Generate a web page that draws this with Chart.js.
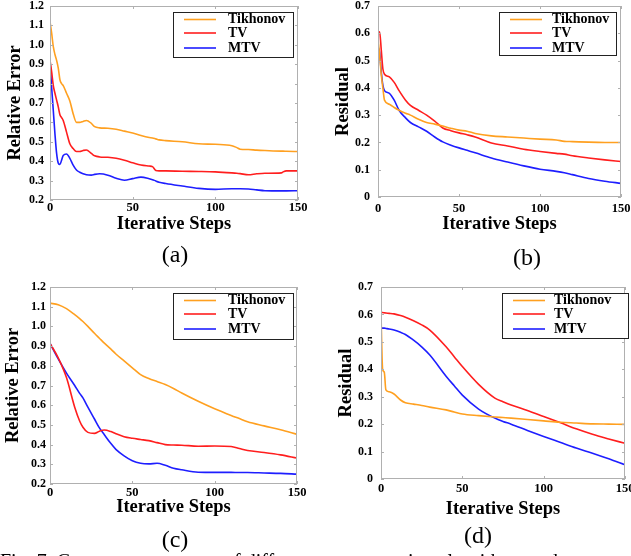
<!DOCTYPE html>
<html>
<head>
<meta charset="utf-8">
<script src="https://cdn.jsdelivr.net/npm/chart.js@4/dist/chart.umd.min.js"></script>
<style>
  body { margin: 0; background: #fff; width: 631px; height: 556px; overflow: hidden; position: relative; font-family: "Liberation Serif", "Times New Roman", serif; }
  .panel { position: absolute; }
  .cap { position: absolute; width: 60px; text-align: center; font-size: 24px; line-height: 24px; color: #000; }
  .fig { position: absolute; left: 0; top: 551px; font-size: 20px; line-height: 20px; white-space: nowrap; color: #000; }
</style>
</head>
<body>
<div class="panel" style="left:0;top:0"><canvas id="chartA" width="315" height="280"></canvas></div>
<div class="panel" style="left:315px;top:0"><canvas id="chartB" width="316" height="280"></canvas></div>
<div class="panel" style="left:0;top:280px"><canvas id="chartC" width="315" height="276"></canvas></div>
<div class="panel" style="left:315px;top:280px"><canvas id="chartD" width="316" height="276"></canvas></div>
<div class="cap" style="left:145px;top:242px">(a)</div>
<div class="cap" style="left:497px;top:245px">(b)</div>
<div class="cap" style="left:145px;top:527px">(c)</div>
<div class="cap" style="left:448px;top:523px">(d)</div>
<div class="fig">Fig. 7. Convergence curves of different reconstruction algorithms and</div>
<script>
const seriesNames = ["Tikhonov", "TV", "MTV"];
const xTicks = [0, 50, 100, 150];
const xTickLabels = ["0", "50", "100", "150"];
const yTicksError = [0.2, 0.3, 0.4, 0.5, 0.6, 0.7, 0.8, 0.9, 1.0, 1.1, 1.2];
const yLabelsError = ["0.2", "0.3", "0.4", "0.5", "0.6", "0.7", "0.8", "0.9", "1.0", "1.1", "1.2"];
const yTicksResidual = [0, 0.1, 0.2, 0.3, 0.4, 0.5, 0.6, 0.7];
const yLabelsResidual = ["0", "0.1", "0.2", "0.3", "0.4", "0.5", "0.6", "0.7"];

// (a) relative error
const stepsA = [0, 1, 2, 3, 4, 5, 6, 7, 8, 10, 12, 14, 16, 18, 20, 22, 25, 27, 30, 35, 40, 45, 50, 55, 60, 62, 64, 66, 70, 80, 90, 100, 110, 113, 115, 120, 125, 130, 140, 141, 143, 150];
const tikhonovA = [1.12, 1.06, 0.99, 0.95, 0.92, 0.88, 0.82, 0.80, 0.79, 0.75, 0.71, 0.645, 0.60, 0.60, 0.605, 0.61, 0.595, 0.578, 0.572, 0.57, 0.565, 0.555, 0.545, 0.532, 0.522, 0.52, 0.515, 0.51, 0.506, 0.50, 0.49, 0.487, 0.48, 0.47, 0.462, 0.46, 0.457, 0.455, 0.452, 0.452, 0.451, 0.45];
const tvA = [0.92, 0.86, 0.79, 0.75, 0.715, 0.68, 0.64, 0.625, 0.61, 0.55, 0.49, 0.465, 0.45, 0.45, 0.455, 0.458, 0.44, 0.428, 0.422, 0.42, 0.415, 0.405, 0.392, 0.38, 0.375, 0.372, 0.352, 0.35, 0.35, 0.348, 0.347, 0.345, 0.34, 0.338, 0.336, 0.33, 0.335, 0.338, 0.34, 0.345, 0.35, 0.35];
const mtvA = [0.92, 0.78, 0.66, 0.54, 0.44, 0.39, 0.383, 0.405, 0.43, 0.437, 0.415, 0.38, 0.355, 0.343, 0.335, 0.33, 0.328, 0.332, 0.335, 0.328, 0.312, 0.302, 0.31, 0.318, 0.31, 0.305, 0.298, 0.292, 0.285, 0.272, 0.26, 0.255, 0.258, 0.258, 0.258, 0.257, 0.252, 0.248, 0.247, 0.247, 0.247, 0.248];

// (b) residual
const stepsB = [0, 1, 2, 3, 4, 7, 10, 13, 17, 20, 25, 30, 35, 40, 45, 50, 55, 60, 70, 80, 90, 100, 110, 115, 120, 130, 140, 150];
const tikhonovB = [0.58, 0.52, 0.45, 0.40, 0.355, 0.34, 0.328, 0.318, 0.307, 0.30, 0.285, 0.273, 0.267, 0.26, 0.252, 0.245, 0.241, 0.233, 0.224, 0.22, 0.216, 0.212, 0.209, 0.204, 0.203, 0.201, 0.20, 0.20];
const tvB = [0.60, 0.605, 0.54, 0.47, 0.45, 0.44, 0.42, 0.39, 0.355, 0.336, 0.318, 0.30, 0.278, 0.253, 0.243, 0.235, 0.228, 0.22, 0.198, 0.187, 0.175, 0.167, 0.16, 0.157, 0.151, 0.143, 0.136, 0.13];
const mtvB = [0.55, 0.53, 0.46, 0.41, 0.39, 0.38, 0.355, 0.318, 0.29, 0.273, 0.257, 0.241, 0.22, 0.202, 0.19, 0.18, 0.171, 0.162, 0.143, 0.128, 0.114, 0.102, 0.094, 0.089, 0.082, 0.068, 0.058, 0.05];

// (c) relative error
const stepsC = [0, 5, 10, 15, 18, 20, 23, 27, 30, 33, 37, 40, 45, 50, 55, 60, 65, 70, 75, 80, 90, 100, 110, 115, 120, 130, 140, 150];
const tikhonovC = [1.118, 1.11, 1.09, 1.06, 1.04, 1.025, 1.0, 0.965, 0.94, 0.915, 0.885, 0.86, 0.825, 0.79, 0.755, 0.735, 0.72, 0.705, 0.685, 0.662, 0.62, 0.582, 0.548, 0.532, 0.516, 0.495, 0.475, 0.452];
const tvC = [0.914, 0.84, 0.74, 0.59, 0.52, 0.488, 0.462, 0.457, 0.468, 0.474, 0.466, 0.455, 0.44, 0.432, 0.426, 0.42, 0.41, 0.40, 0.398, 0.397, 0.392, 0.393, 0.39, 0.38, 0.37, 0.36, 0.348, 0.332];
const mtvC = [0.914, 0.835, 0.763, 0.70, 0.66, 0.637, 0.59, 0.53, 0.485, 0.45, 0.405, 0.376, 0.343, 0.318, 0.305, 0.302, 0.305, 0.295, 0.28, 0.272, 0.26, 0.259, 0.259, 0.258, 0.258, 0.256, 0.254, 0.25];

// (d) residual
const stepsD = [0, 1, 2, 3, 5, 8, 12, 15, 20, 25, 30, 40, 45, 50, 60, 70, 75, 80, 90, 100, 110, 120, 130, 140, 150];
const tikhonovD = [0.60, 0.40, 0.39, 0.325, 0.318, 0.31, 0.288, 0.278, 0.273, 0.268, 0.262, 0.252, 0.244, 0.237, 0.231, 0.226, 0.224, 0.222, 0.217, 0.212, 0.207, 0.204, 0.201, 0.20, 0.199];
const tvD = [0.607, 0.607, 0.606, 0.605, 0.604, 0.602, 0.596, 0.59, 0.577, 0.562, 0.543, 0.482, 0.446, 0.41, 0.345, 0.295, 0.282, 0.27, 0.25, 0.228, 0.206, 0.183, 0.163, 0.146, 0.13];
const mtvD = [0.551, 0.55, 0.55, 0.549, 0.547, 0.543, 0.535, 0.527, 0.506, 0.482, 0.452, 0.375, 0.34, 0.306, 0.255, 0.222, 0.21, 0.20, 0.177, 0.155, 0.134, 0.113, 0.094, 0.074, 0.052];

const SERIF = "'Liberation Serif', 'Times New Roman', serif";
const COLORS = ["#ffa020", "#ff1e1e", "#1e1eff"];

// grey box round the plot with short inward ticks on all four sides
const framePlugin = {
  id: "frame",
  afterDatasetsDraw(chart) {
    const { ctx, chartArea: a, scales } = chart;
    ctx.save();
    ctx.strokeStyle = "#b0b0b0";
    ctx.lineWidth = 1;
    ctx.strokeRect(a.left + 0.5, a.top + 0.5, a.right - a.left - 1, a.bottom - a.top - 1);
    ctx.beginPath();
    scales.x.ticks.forEach(t => {
      const px = Math.round(scales.x.getPixelForValue(t.value)) + 0.5;
      ctx.moveTo(px, a.bottom); ctx.lineTo(px, a.bottom - 3);
      ctx.moveTo(px, a.top); ctx.lineTo(px, a.top + 3);
    });
    scales.y.ticks.forEach(t => {
      const py = Math.round(scales.y.getPixelForValue(t.value)) + 0.5;
      ctx.moveTo(a.left, py); ctx.lineTo(a.left + 3, py);
      ctx.moveTo(a.right, py); ctx.lineTo(a.right - 3, py);
    });
    ctx.stroke();
    ctx.restore();
  }
};

// boxed legend inside the plot, upper right
const boxLegend = {
  id: "boxLegend",
  afterDraw(chart, args, opts) {
    const { ctx } = chart;
    const b = opts.box;
    ctx.save();
    ctx.fillStyle = "#fff";
    ctx.fillRect(b[0], b[1], b[2], b[3]);
    ctx.strokeStyle = "#222";
    ctx.lineWidth = 1;
    ctx.strokeRect(b[0] + 0.5, b[1] + 0.5, b[2], b[3]);
    ctx.font = "bold 14px " + SERIF;
    ctx.textBaseline = "middle";
    ctx.fillStyle = "#000";
    const rows = [7.5, 21, 36];
    chart.data.datasets.forEach((ds, i) => {
      const y = b[1] + rows[i];
      ctx.strokeStyle = ds.borderColor;
      ctx.lineWidth = 1.6;
      ctx.beginPath();
      ctx.moveTo(b[0] + 11, y);
      ctx.lineTo(b[0] + 43, y);
      ctx.stroke();
      ctx.fillText(ds.label, b[0] + opts.textX, y);
    });
    ctx.restore();
  }
};

function makePanel(id, g, steps, series, yTicks, yLabels, yMin, yMax, yTitle) {
  const canvas = document.getElementById(id);
  const W = canvas.width, H = canvas.height;
  const xH = 45;
  new Chart(canvas, {
    type: "line",
    data: {
      datasets: series.map((vals, i) => ({
        label: seriesNames[i],
        data: steps.map((s, k) => ({ x: s, y: vals[k] })),
        borderColor: COLORS[i],
        borderWidth: 1.6,
        pointRadius: 0,
        cubicInterpolationMode: "monotone",
        fill: false
      }))
    },
    options: {
      responsive: false,
      animation: false,
      events: [],
      layout: { padding: { left: 0, top: g.top, right: W - g.right, bottom: H - g.bottom - xH } },
      plugins: {
        legend: { display: false },
        tooltip: { enabled: false },
        boxLegend: { box: g.legend, textX: g.textX }
      },
      scales: {
        x: {
          type: "linear",
          min: 0, max: 150,
          afterBuildTicks: s => { s.ticks = xTicks.map(v => ({ value: v })); },
          afterFit: s => { s.height = xH; s.paddingLeft = 0; s.paddingRight = 0; },
          ticks: {
            color: "#000", padding: g.xPad, maxRotation: 0, autoSkip: false,
            font: { family: SERIF, size: 12.5, weight: "bold" },
            callback: (v, i) => xTickLabels[i]
          },
          grid: { display: false, drawTicks: false },
          border: { display: false },
          title: {
            display: true, text: "Iterative Steps", color: "#000",
            font: { family: SERIF, size: 18.5, weight: "bold", lineHeight: 1.2 },
            padding: { top: 0, bottom: g.xTitlePad }
          }
        },
        y: {
          type: "linear",
          min: yMin, max: yMax,
          afterBuildTicks: s => { s.ticks = yTicks.map(v => ({ value: v })); },
          afterFit: s => { s.width = g.left; s.paddingTop = 0; s.paddingBottom = 0; },
          ticks: {
            color: "#000", padding: g.yPad,
            font: { family: SERIF, size: 12, weight: "bold" },
            callback: (v, i) => yLabels[i]
          },
          grid: { display: false, drawTicks: false },
          border: { display: false },
          title: {
            display: true, text: yTitle, color: "#000",
            font: { family: SERIF, size: 18.5, weight: "bold", lineHeight: 1.2 },
            padding: { top: g.yTitlePad, bottom: 0 }
          }
        }
      }
    },
    plugins: [framePlugin, boxLegend]
  });
}

makePanel("chartA",
  { left: 50, right: 298, top: 6, bottom: 200, xPad: 0, xTitlePad: 9.9, yPad: 6, yTitlePad: 3.9, legend: [173, 12, 120, 45], textX: 55 },
  stepsA, [tikhonovA, tvA, mtvA], yTicksError, yLabelsError, 0.2, 1.2, "Relative Error");
makePanel("chartB",
  { left: 63, right: 306, top: 6, bottom: 197, xPad: 4, xTitlePad: 6.9, yPad: 8, yTitlePad: 17.4, legend: [184, 12, 117, 43], textX: 53 },
  stepsB, [tikhonovB, tvB, mtvB], yTicksResidual, yLabelsResidual, 0, 0.7, "Residual");
makePanel("chartC",
  { left: 50, right: 297, top: 7, bottom: 204, xPad: 1, xTitlePad: 10.4, yPad: 4, yTitlePad: 2.4, legend: [173, 13, 120, 46], textX: 55 },
  stepsC, [tikhonovC, tvC, mtvC], yTicksError, yLabelsError, 0.2, 1.2, "Relative Error");
makePanel("chartD",
  { left: 66, right: 310, top: 7, bottom: 199, xPad: 2, xTitlePad: 3.9, yPad: 8, yTitlePad: 20, legend: [187, 13, 126, 45], textX: 52 },
  stepsD, [tikhonovD, tvD, mtvD], yTicksResidual, yLabelsResidual, 0, 0.7, "Residual");
</script>
</body>
</html>
